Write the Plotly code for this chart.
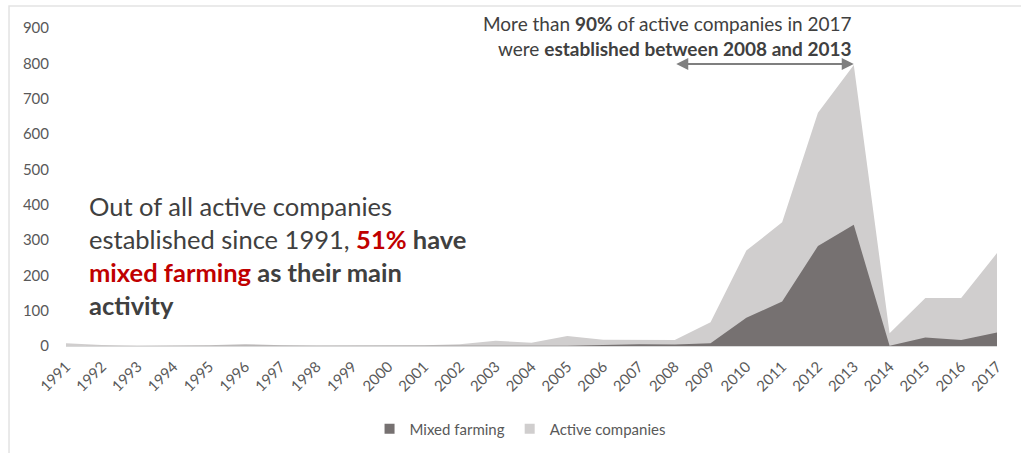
import plotly.graph_objects as go

years = list(range(1991, 2018))
active_companies = [8, 3, 1, 1, 2, 6, 2, 1, 1, 1, 2, 5, 15, 9, 28, 18, 17, 17, 67, 270, 350, 660, 795, 36, 136, 136, 263]
mixed_farming = [0, 0, 0, 0, 0, 0, 0, 0, 0, 0, 0, 0, 0, 0, 1, 3, 5, 4, 8, 80, 126, 283, 343, 1, 24, 17, 38]
y_ticks = [0, 100, 200, 300, 400, 500, 600, 700, 800, 900]

FONT = "Lato"
C_ACTIVE = "#d0cece"
C_MIXED = "#767171"
C_TEXT = "#595959"

fig = go.Figure()

# Overlapping areas: all active companies behind, mixed farming in front
fig.add_trace(go.Scatter(x=years, y=active_companies, mode="lines", fill="tozeroy",
                         fillcolor=C_ACTIVE, line=dict(width=0, color=C_ACTIVE),
                         showlegend=False, hoverinfo="x+y", name="Active companies"))
fig.add_trace(go.Scatter(x=years, y=mixed_farming, mode="lines", fill="tozeroy",
                         fillcolor=C_MIXED, line=dict(width=0, color=C_MIXED),
                         showlegend=False, hoverinfo="x+y", name="Mixed farming"))

# Legend entries with square swatches
fig.add_trace(go.Scatter(x=[None], y=[None], mode="markers", name="Mixed farming",
                         marker=dict(symbol="square", size=10, color=C_MIXED)))
fig.add_trace(go.Scatter(x=[None], y=[None], mode="markers", name="Active companies",
                         marker=dict(symbol="square", size=10, color=C_ACTIVE)))

fig.update_layout(
    width=1021, height=453,
    margin=dict(l=66, r=24, t=28, b=107, autoexpand=False),
    paper_bgcolor="white", plot_bgcolor="white",
    font=dict(family=FONT, color=C_TEXT),
    xaxis=dict(range=[1991, 2017], tickmode="array", tickvals=years,
               ticktext=[str(y) for y in years], tickangle=-45,
               tickfont=dict(size=15, color=C_TEXT), showgrid=False, zeroline=False,
               showline=True, linecolor="#d9d9d9", linewidth=1, ticks="",
               ticklabelstandoff=5, automargin=False),
    yaxis=dict(range=[0, 900], tickmode="array", tickvals=y_ticks,
               tickfont=dict(size=15, color=C_TEXT), showgrid=False, zeroline=False,
               showline=False, ticks="", ticklabelstandoff=16, automargin=False),
    legend=dict(orientation="h", x=0.4877, xanchor="center", y=-0.261, yanchor="middle",
                font=dict(size=15, color=C_TEXT), itemwidth=30,
                bgcolor="rgba(0,0,0,0)"),
    showlegend=True,
)

# Frame around the chart (left and top edges visible)
fig.add_shape(type="rect", xref="paper", yref="paper", x0=-0.0612, x1=1.04, y0=-0.36, y1=1.069,
              line=dict(color="#e3e3e3", width=1.5), layer="below")

# Range arrow 2008-2013
fig.add_annotation(x=2013, y=798, ax=2008, ay=798, xref="x", yref="y", axref="x", ayref="y",
                   text="", showarrow=True, arrowhead=2, startarrowhead=2, arrowside="end+start",
                   arrowsize=1.2, arrowwidth=2, arrowcolor="#7f7f7f")

fig.add_annotation(
    x=2013, y=1.058, xref="x", yref="paper", xanchor="right", yanchor="top", align="right",
    showarrow=False,
    text="More than <b>90%</b> of active companies in 2017<br>were <b>established between 2008 and 2013</b>",
    font=dict(size=19, color="#404040", family=FONT),
)

fig.add_annotation(
    x=0.0226, y=0.494, xref="paper", yref="paper", xanchor="left", yanchor="top", align="left",
    showarrow=False,
    text=("Out of all active companies<br>established since 1991, "
          "<b><span style='color:#c00000'>51%</span> have</b><br>"
          "<b><span style='color:#c00000'>mixed farming</span> as their main</b><br>"
          "<b>activity</b>"),
    font=dict(size=25.5, color="#404040", family=FONT),
)

fig.write_html("out.html")
